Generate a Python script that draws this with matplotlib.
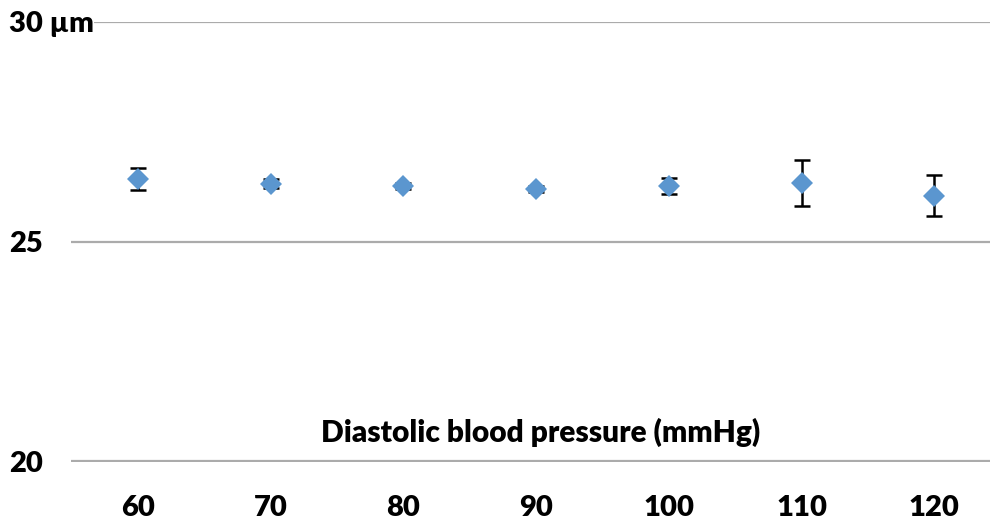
import matplotlib
matplotlib.use("Agg")
import matplotlib.pyplot as plt

# Mean retinal vessel measure by diastolic blood pressure group
categories = ["60", "70", "80", "90", "100", "110", "120"]
means = [26.43, 26.32, 26.27, 26.20, 26.27, 26.33, 26.05]
errors = [0.25, 0.10, 0.06, 0.07, 0.19, 0.52, 0.46]
y_ticks = [20, 25, 30]
y_tick_labels = ["20", "25", "30 µm"]
x_title = "Diastolic blood pressure (mmHg)"

plt.rcParams["font.family"] = ["Lato", "DejaVu Sans"]
WEIGHT = "heavy"

W, H = 990, 519
fig = plt.figure(figsize=(W / 100, H / 100), dpi=100)
left_px, right_px = 71, 990
top_px, bottom_px = 22, 461.5
ax = fig.add_axes([left_px / W, 1 - bottom_px / H,
                   (right_px - left_px) / W, (bottom_px - top_px) / H])

x = list(range(len(categories)))
ax.errorbar(x, means, yerr=errors, fmt="none", ecolor="black",
            elinewidth=1.8, capsize=5.8, capthick=1.8, zorder=3)
ax.plot(x, means, linestyle="none", marker="D", markersize=11.5,
        color="#5B96CF", markeredgewidth=0, zorder=4)

ax.set_ylim(20, 30)
ax.set_xlim(-0.505, 6.42)
ax.set_yticks(y_ticks)
ax.set_yticklabels(y_tick_labels, fontsize=21, fontweight=WEIGHT, ha="left")
ax.set_xticks(x)
ax.set_xticklabels(categories, fontsize=21, fontweight=WEIGHT)
ax.tick_params(axis="y", length=0, pad=(left_px - 9) / 1.389)
ax.tick_params(axis="x", length=0, pad=24)
for lbl in ax.get_yticklabels():
    lbl.set_bbox(dict(facecolor="white", edgecolor="none", pad=0))
    lbl.set_zorder(5)

ax.yaxis.grid(True, color="#ABABAB", linewidth=1.6)
ax.set_axisbelow(True)
for s in ax.spines.values():
    s.set_visible(False)

fig.text(541 / W, 1 - 432 / H, x_title, fontsize=21.5, fontweight=WEIGHT,
         ha="center", va="center")

fig.savefig("out.png", dpi=100)
